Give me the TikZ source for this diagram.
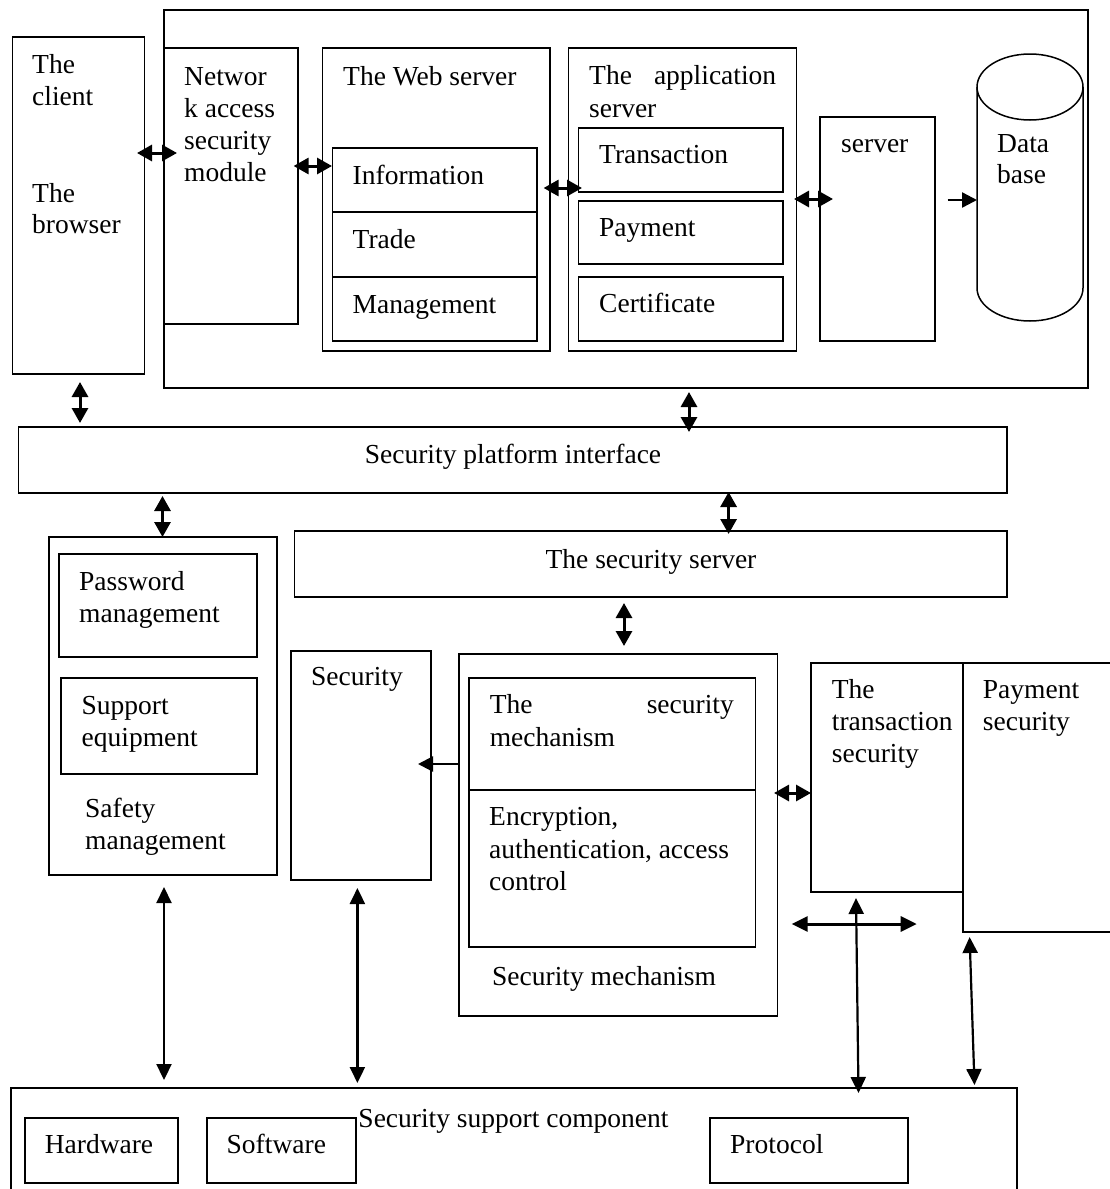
\documentclass[tikz,border=0pt]{standalone}
\usepackage{fontspec}
\setmainfont{Liberation Serif}
\usetikzlibrary{arrows.meta}
\newcommand\dfont{\fontsize{27.5}{32}\selectfont}
% box macro: name, x1, y1, x2, y2, extra style
\newcommand\boxnode[6]{\node[box,#6,minimum width={(#4)-(#2)},minimum height={(#5)-(#3)}] (#1) at (#2,#3) {};}
\newcommand\lbltext[4]{\node[lbl] (#1) at (#2,#3) {#4};}
\tikzset{
  box/.style={draw, line width=1.5pt, inner sep=0pt, outer sep=0pt, anchor=north west},
  lbl/.style={inner sep=0pt, anchor=base west, font=\dfont},
  clbl/.style={inner sep=0pt, anchor=base, font=\dfont},
  dblshort/.style={{Triangle[length=15pt,width=16pt]}-{Triangle[length=15pt,width=16pt]}, line width=3pt},
  dbllong/.style={{Triangle[length=16pt,width=15pt]}-{Triangle[length=16pt,width=15pt]}, line width=2.2pt},
  single/.style={-{Triangle[length=15pt,width=15pt]}, line width=2.4pt},
}
\begin{document}
\begin{tikzpicture}[x=1pt,y=-1pt]
\path[fill=white,use as bounding box] (0,0) rectangle (1110,1189);

% ---------- top block ----------
\boxnode{outer}{164}{10}{1088}{388}{line width=2.2pt}
\boxnode{client}{12.5}{37}{144.6}{374}{}
\boxnode{net}{164}{48}{298}{324}{}
\boxnode{web}{322.5}{48}{550}{351}{}
\boxnode{winfo}{332.5}{148}{537}{212}{}
\boxnode{wtrade}{332.5}{212}{537}{277}{}
\boxnode{wmgmt}{332.5}{277}{537}{341}{}
\boxnode{app}{568.6}{48}{796.4}{351}{}
\boxnode{atrans}{578.6}{128}{782.9}{192}{}
\boxnode{apay}{578.6}{201}{782.9}{264}{}
\boxnode{acert}{578.6}{277}{782.9}{341}{}
\boxnode{server}{820}{117}{935}{341}{line width=1.8pt}

% database cylinder
\coordinate (dbtop) at (1030,87);
\coordinate (dbbot) at (1030,288);
\draw[line width=1.5pt] (dbtop) ellipse [x radius=53, y radius=33];
\draw[line width=1.5pt] (977,87) -- (977,288) arc[start angle=180, end angle=360, x radius=53, y radius=-33] -- (1083,87);

\lbltext{cl1}{32}{73}{The}
\lbltext{cl2}{32}{105}{client}
\lbltext{br1}{32}{202}{The}
\lbltext{br2}{32}{233}{browser}
\lbltext{nt1}{184}{85}{Networ}
\lbltext{nt2}{184}{117}{k access}
\lbltext{nt3}{184}{149}{security}
\lbltext{nt4}{184}{181}{module}
\lbltext{wst}{343}{85}{The Web server}
\lbltext{wit}{352.5}{184}{Information}
\lbltext{wtt}{352.5}{248}{Trade}
\lbltext{wmt}{352.5}{313}{Management}
\lbltext{ap1}{589}{84}{\makebox[187pt][s]{The application}}
\lbltext{ap2}{589}{117}{server}
\lbltext{att}{599}{163}{Transaction}
\lbltext{apt}{599}{236}{Payment}
\lbltext{act}{599}{312}{Certificate}
\lbltext{svt}{841}{152}{server}
\lbltext{db1}{997}{152}{Data}
\lbltext{db2}{997}{183}{base}

% ---------- middle ----------
\boxnode{platform}{18.6}{427}{1007}{493}{line width=1.7pt}
\node[clbl] (platt) at (513,463) {Security platform interface};
\boxnode{safety}{49}{537}{277}{875}{}
\boxnode{passw}{59}{554}{257}{657}{}
\boxnode{suppeq}{61}{678}{257}{774}{}
\boxnode{secsrv}{294.6}{531}{1007}{597}{}
\node[clbl] (secsrvt) at (651,568) {The security server};
\boxnode{secur}{291}{651}{431}{880}{}
\boxnode{mech}{459}{654}{777.5}{1016}{line width=1.7pt}
\boxnode{mechtop}{469}{678}{755.7}{790}{}
\boxnode{mechbot}{469}{790}{755.7}{947}{}
\boxnode{transsec}{811}{663}{963}{892}{}
\boxnode{paysec}{963}{663}{1125}{932}{}

\lbltext{pw1}{79}{590}{Password}
\lbltext{pw2}{79}{622}{management}
\lbltext{se1}{81.5}{714}{Support}
\lbltext{se2}{81.5}{746}{equipment}
\lbltext{sf1}{85}{817}{Safety}
\lbltext{sf2}{85}{849}{management}
\lbltext{sct}{311}{685}{Security}
\lbltext{mt1}{489.6}{713}{\makebox[244pt][s]{The security}}
\lbltext{mt2}{489.6}{746}{mechanism}
\lbltext{mb1}{489}{825}{Encryption,}
\lbltext{mb2}{489}{858}{authentication, access}
\lbltext{mb3}{489}{890}{control}
\lbltext{mst}{492}{985}{Security mechanism}
\lbltext{ts1}{831.7}{698}{The}
\lbltext{ts2}{831.7}{730}{transaction}
\lbltext{ts3}{831.7}{762}{security}
\lbltext{ps1}{982.7}{698}{Payment}
\lbltext{ps2}{982.7}{730}{security}

% ---------- bottom ----------
\boxnode{supcomp}{10.6}{1088}{1017}{1210}{line width=2.2pt}
\boxnode{hw}{24.8}{1118}{178}{1183}{line width=1.8pt}
\boxnode{sw}{206.7}{1118}{356}{1183}{line width=1.8pt}
\boxnode{proto}{710}{1118}{908}{1183}{line width=1.8pt}
\node[clbl] (supt) at (513.5,1127) {Security support component};
\lbltext{hwt}{44.6}{1153}{Hardware}
\lbltext{swt}{226.5}{1153}{Software}
\lbltext{prt}{730}{1153}{Protocol}

% ---------- connector end points ----------
\coordinate (a1s) at (137,153);   \coordinate (a1e) at (177,153);
\coordinate (a2s) at (293.6,166); \coordinate (a2e) at (332,166);
\coordinate (a3s) at (543.6,188); \coordinate (a3e) at (582,188);
\coordinate (a4s) at (794,199);   \coordinate (a4e) at (833,199);
\coordinate (a5s) at (947.5,200); \coordinate (a5e) at (977,200);
\coordinate (a6s) at (80,382);    \coordinate (a6e) at (80,423);
\coordinate (a7s) at (689,392);   \coordinate (a7e) at (689,432);
\coordinate (a8s) at (162.5,496); \coordinate (a8e) at (162.5,537);
\coordinate (a9s) at (728.6,492); \coordinate (a9e) at (728.6,534);
\coordinate (a10s) at (624,603);  \coordinate (a10e) at (624,646);
\coordinate (a11s) at (459,764);  \coordinate (a11e) at (418,764);
\coordinate (a12s) at (774,793);  \coordinate (a12e) at (811,793);
\coordinate (a13s) at (791.7,924); \coordinate (a13e) at (916.7,924);
\coordinate (a14s) at (856,898);  \coordinate (a14e) at (858.5,1093);
\coordinate (a15s) at (969.6,937); \coordinate (a15e) at (974.5,1085);
\coordinate (a16s) at (164,887);  \coordinate (a16e) at (164,1080);
\coordinate (a17s) at (357.4,888); \coordinate (a17e) at (357.4,1083);

\draw[dblshort] (a1s) -- (a1e);
\draw[dblshort] (a2s) -- (a2e);
\draw[dblshort] (a3s) -- (a3e);
\draw[dblshort] (a4s) -- (a4e);
\draw[single] (a5s) -- (a5e);
\draw[dblshort] (a6s) -- (a6e);
\draw[dblshort] (a7s) -- (a7e);
\draw[dblshort] (a8s) -- (a8e);
\draw[dblshort] (a9s) -- (a9e);
\draw[dblshort] (a10s) -- (a10e);
\draw[single] (a11s) -- (a11e);
\draw[dblshort] (a12s) -- (a12e);
\draw[dbllong, line width=3pt] (a13s) -- (a13e);
\draw[dbllong] (a14s) -- (a14e);
\draw[dbllong] (a15s) -- (a15e);
\draw[dbllong] (a16s) -- (a16e);
\draw[dbllong] (a17s) -- (a17e);
\end{tikzpicture}
\end{document}
